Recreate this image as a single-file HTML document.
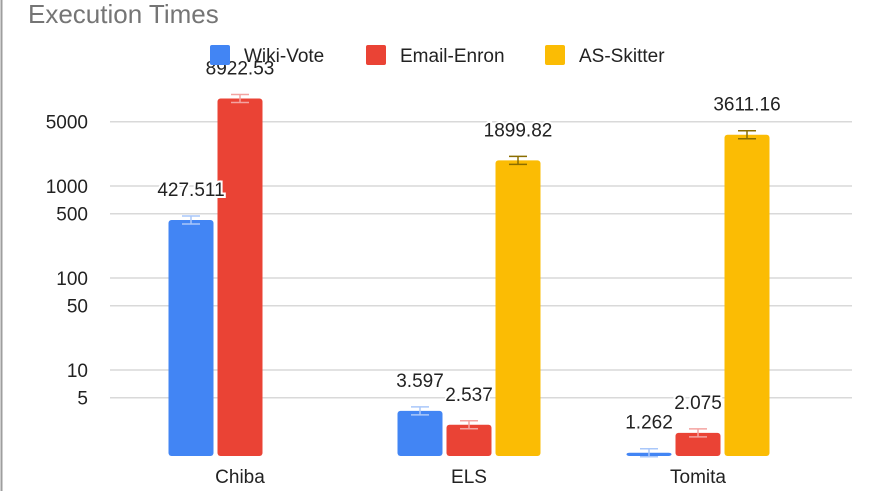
<!DOCTYPE html>
<html><head><meta charset="utf-8"><style>
body{margin:0;background:#fff;}
svg text{font-family:"Liberation Sans",Arial,sans-serif;}
</style></head><body>
<svg width="871" height="491">
<rect x="0" y="0" width="871" height="491" fill="#fff"/>
<line x1="1.5" y1="0" x2="1.5" y2="491" stroke="#9e9e9e" stroke-width="2"/>
<text x="28" y="23" font-size="26" fill="#757575">Execution Times</text>
<g id="grid"></g>
<g id="bars"></g>
<g id="legend"></g>
</svg>
<script>
const categories=["Chiba","ELS","Tomita"];
const series=["Wiki-Vote","Email-Enron","AS-Skitter"];
const colors=["#4285f4","#ea4335","#fbbc04"];
const wikiVote=[427.511,3.597,1.262];
const emailEnron=[8922.53,2.537,2.075];
const asSkitter=[null,1899.82,3611.16];
const tickValues=[5,10,50,100,500,1000,5000];
const tickLabels=["5","10","50","100","500","1000","5000"];
const values=[wikiVote,emailEnron,asSkitter];
const NS="http://www.w3.org/2000/svg";
const base=456;
function y(v){return Math.min(base,370-92*(Math.log10(v)-1));}
function x(ci,si){return 240+ci*229+(si-1)*49;}
function mk(tag,attrs,parent){const e=document.createElementNS(NS,tag);for(const k in attrs)e.setAttribute(k,attrs[k]);parent.appendChild(e);return e;}
const grid=document.getElementById('grid'),bars=document.getElementById('bars'),legend=document.getElementById('legend');
tickValues.forEach((v,i)=>{
 const l=mk('line',{x1:110,x2:852,y1:y(v),y2:y(v),stroke:'#d9d9d9','stroke-width':1.5},grid);
 
 
 const t=mk('text',{x:88,y:y(v)+7,'text-anchor':'end','font-size':19,fill:'#222'},grid);
 t.textContent=tickLabels[i];
 
 
});
categories.forEach((c,ci)=>{
 const t=mk('text',{x:x(ci,1),y:483,'text-anchor':'middle','font-size':19,fill:'#222'},grid);
 t.textContent=c;
 
 
});
const labels=[];
values.forEach((arr,si)=>{
 arr.forEach((v,ci)=>{
  if(v==null)return;
  const cx=x(ci,si),top=y(v);
  const r=mk('rect',{x:cx-22.5,y:top,width:45,height:base-top,fill:colors[si],rx:3},bars);
  
  
  const ec=['#a9c7fa','#f4a3a0','#8a6d00'][si];
  const e=mk('path',{d:`M${cx-9} ${top-4}H${cx+9}M${cx-9} ${top+4}H${cx+9}M${cx} ${top-4}V${top+4}`,stroke:ec,'stroke-width':1.5,fill:'none'},bars);
  
  
  labels.push([cx,top-24,v]);
 });
});
labels.forEach(([lx,ly,v])=>{
 const t=mk('text',{x:lx,y:ly,'text-anchor':'middle','font-size':19,fill:'#222',stroke:'#fff','stroke-width':4,'paint-order':'stroke'},bars);
 t.textContent=String(v);
 
 
});
const lx=[210,366,545];
series.forEach((s,i)=>{
 const r=mk('rect',{x:lx[i],y:45,width:20,height:20,rx:2,fill:colors[i]},legend);
 
 
 const t=mk('text',{x:lx[i]+34,y:62,'font-size':19,fill:'#222'},legend);
 t.textContent=s;
 
 
});
</script>
</body></html>
